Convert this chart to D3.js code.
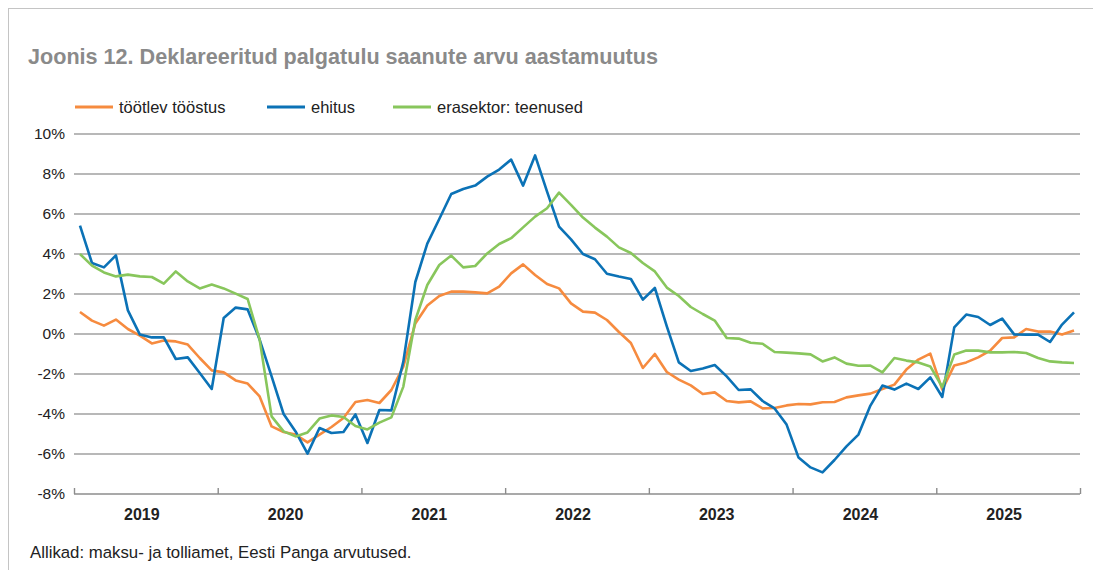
<!DOCTYPE html>
<meta charset="utf-8">
<style>
    body { margin: 0; background: #fff; }
    text { font-family: "Liberation Sans", Arial, sans-serif; }
    .grid line { stroke: #a0a0a0; stroke-width: 1.3px; }
    .series { fill: none; stroke-width: 2.6px; stroke-linejoin: round; }
</style>
<script src="https://d3js.org/d3.v7.min.js"></script>
<body>
<div id="chart"></div>
<script>
    // monthly values, Jan 2019 .. Dec 2025 (annual change, %)
    var years = ["2019", "2020", "2021", "2022", "2023", "2024", "2025"];
    var yTicks = [-8, -6, -4, -2, 0, 2, 4, 6, 8, 10];

    var manufacturing = [
        1.1, 0.67, 0.42, 0.72, 0.25, -0.08, -0.47, -0.33, -0.37, -0.53, -1.2, -1.82,
        -1.92, -2.32, -2.48, -3.12, -4.62, -4.9, -5.03, -5.42, -5.03, -4.65, -4.2, -3.4,
        -3.3, -3.45, -2.8, -1.63, 0.53, 1.42, 1.9, 2.12, 2.12, 2.08, 2.03, 2.37,
        3.03, 3.48, 2.95, 2.5, 2.28, 1.53, 1.12, 1.07, 0.7, 0.1, -0.45, -1.7,
        -1.0, -1.9, -2.28, -2.57, -3.0, -2.92, -3.35, -3.42, -3.37, -3.72, -3.7, -3.57,
        -3.5, -3.52, -3.41, -3.4, -3.17, -3.07, -2.98, -2.75, -2.53, -1.78, -1.28, -0.98,
        -2.78, -1.57, -1.42, -1.17, -0.83, -0.2, -0.17, 0.25, 0.12, 0.12, -0.03, 0.17
    ];
    var construction = [
        5.42, 3.55, 3.33, 3.93, 1.18, -0.03, -0.17, -0.17, -1.25, -1.17, -1.95, -2.75,
        0.8, 1.32, 1.23, -0.28, -2.12, -4.0, -4.87, -5.98, -4.7, -4.95, -4.9, -4.02,
        -5.45, -3.8, -3.82, -1.38, 2.6, 4.52, 5.75, 7.0, 7.25, 7.42, 7.87, 8.22,
        8.72, 7.42, 8.93, 7.12, 5.37, 4.73, 4.0, 3.74, 3.01, 2.87, 2.75, 1.72,
        2.3, 0.38, -1.42, -1.85, -1.72, -1.55, -2.12, -2.8, -2.77, -3.35, -3.72, -4.53,
        -6.18, -6.67, -6.92, -6.3, -5.62, -5.03, -3.58, -2.58, -2.78, -2.48, -2.75, -2.17,
        -3.15, 0.33, 0.97, 0.85, 0.45, 0.77, -0.02, -0.03, -0.03, -0.4, 0.47, 1.08
    ];
    var services = [
        4.0, 3.42, 3.08, 2.88, 2.97, 2.88, 2.85, 2.52, 3.13, 2.63, 2.28, 2.47,
        2.28, 2.02, 1.75, -0.28, -4.12, -4.87, -5.12, -4.92, -4.23, -4.07, -4.15, -4.6,
        -4.77, -4.43, -4.17, -2.63, 0.7, 2.45, 3.45, 3.92, 3.33, 3.4, 4.03, 4.5,
        4.79, 5.33, 5.87, 6.29, 7.07, 6.46, 5.82, 5.32, 4.87, 4.33, 4.05, 3.55,
        3.13, 2.32, 1.9, 1.35, 1.0, 0.67, -0.2, -0.23, -0.44, -0.49, -0.9, -0.93,
        -0.97, -1.02, -1.37, -1.17, -1.48, -1.59, -1.58, -1.92, -1.2, -1.33, -1.42, -1.62,
        -2.65, -1.03, -0.83, -0.83, -0.92, -0.92, -0.9, -0.95, -1.2, -1.37, -1.42, -1.45
    ];

    var series = [
        { name: "töötlev tööstus", values: manufacturing, color: "#f68b3f" },
        { name: "ehitus", values: construction, color: "#0b72b6" },
        { name: "erasektor: teenused", values: services, color: "#88c65c" }
    ];

    var W = 1093, H = 570;
    var svg = d3.select("#chart").append("svg")
        .attr("width", W)
        .attr("height", H);

    // frame
    svg.append("line").attr("x1", 8.5).attr("x2", 8.5).attr("y1", 8).attr("y2", H)
        .attr("stroke", "#c4c4c4").attr("stroke-width", 1);
    svg.append("line").attr("x1", 8).attr("x2", W).attr("y1", 8.5).attr("y2", 8.5)
        .attr("stroke", "#c4c4c4").attr("stroke-width", 1);

    svg.append("text")
        .attr("x", 28).attr("y", 64)
        .attr("fill", "#8a8a8a")
        .attr("font-size", "21.6px")
        .attr("font-weight", "bold")
        .text("Joonis 12. Deklareeritud palgatulu saanute arvu aastamuutus");

    var nMonths = years.length * 12;
    var x = d3.scaleLinear().domain([0, nMonths]).range([74, 1080]);
    var y = d3.scaleLinear().domain([-8, 10]).range([494, 134]);

    // gridlines
    svg.append("g").attr("class", "grid")
        .selectAll("line")
        .data(yTicks.filter(function(d) { return d !== -8; }))
        .enter().append("line")
        .attr("x1", x(0)).attr("x2", x(nMonths))
        .attr("y1", function(d) { return y(d); })
        .attr("y2", function(d) { return y(d); });

    // y axis labels
    var yAxis = d3.axisLeft(y)
        .tickValues(yTicks)
        .tickSize(0)
        .tickPadding(9)
        .tickFormat(function(d) { return d + "%"; });
    var gy = svg.append("g")
        .attr("transform", "translate(" + x(0) + ",0)")
        .call(yAxis);
    gy.select(".domain").remove();
    gy.selectAll("text")
        .attr("font-family", "Liberation Sans, Arial, sans-serif")
        .attr("font-size", "15.5px")
        .attr("fill", "#222");

    // x axis: year boundaries with inward ticks
    var xAxis = d3.axisTop(x)
        .tickValues(d3.range(0, nMonths + 1, 12))
        .tickSize(6)
        .tickFormat("");
    var gx = svg.append("g")
        .attr("transform", "translate(0," + y(-8) + ")")
        .call(xAxis);
    gx.select(".domain").attr("stroke", "#8c8c8c").attr("stroke-width", 1.4)
        .attr("d", "M" + x(0) + ",0H" + x(nMonths));
    gx.selectAll(".tick line").attr("stroke", "#8c8c8c").attr("stroke-width", 1.4);

    svg.append("g").selectAll("text")
        .data(years)
        .enter().append("text")
        .attr("x", function(d, i) { return x(i * 12 + 6) - 4; })
        .attr("y", 520)
        .attr("text-anchor", "middle")
        .attr("font-size", "16px")
        .attr("font-weight", "bold")
        .attr("fill", "#222")
        .text(function(d) { return d; });

    // lines
    var line = d3.line()
        .x(function(d, i) { return x(i + 0.5); })
        .y(function(d) { return y(d); });

    svg.append("g").selectAll("path")
        .data(series)
        .enter().append("path")
        .attr("class", "series")
        .attr("stroke", function(d) { return d.color; })
        .attr("d", function(d) { return line(d.values); });

    // legend
    var legendX = [75, 267, 393];
    var legend = svg.append("g").selectAll("g")
        .data(series)
        .enter().append("g")
        .attr("transform", function(d, i) { return "translate(" + legendX[i] + ",107)"; });
    legend.append("line")
        .attr("x1", 0).attr("x2", 38)
        .attr("stroke", function(d) { return d.color; })
        .attr("stroke-width", 3);
    legend.append("text")
        .attr("x", 44).attr("y", 6)
        .attr("font-size", "16.5px")
        .attr("fill", "#222")
        .text(function(d) { return d.name; });

    svg.append("text")
        .attr("x", 30).attr("y", 558)
        .attr("font-size", "16.8px")
        .attr("fill", "#222")
        .text("Allikad: maksu- ja tolliamet, Eesti Panga arvutused.");
</script>
</body>
